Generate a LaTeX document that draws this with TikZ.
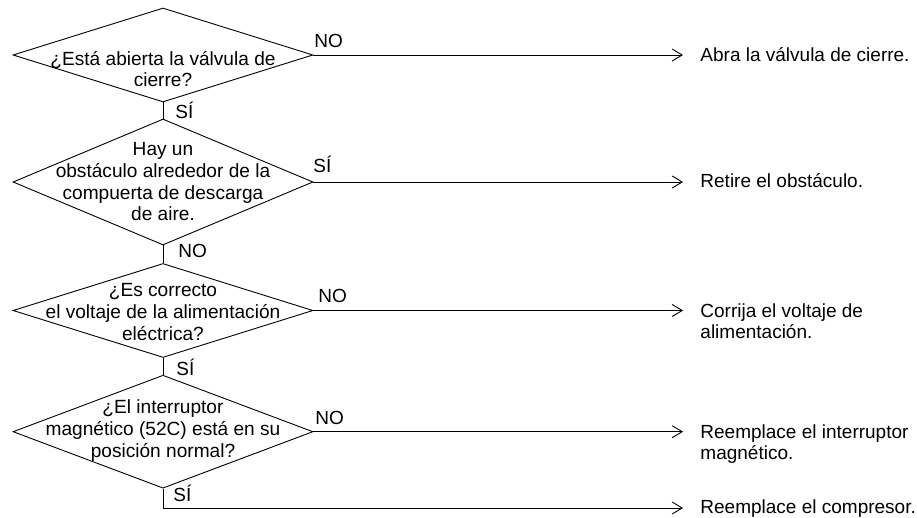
\documentclass[tikz,border=0pt]{standalone}
\usepackage{fontspec}
\setmainfont{Liberation Sans}
\usetikzlibrary{shapes.geometric,arrows.meta}

\begin{document}
\begin{tikzpicture}[x=1pt,y=-1pt,line width=0.9pt,
  decision/.style={draw,shape=diamond,aspect=1,inner sep=0pt,minimum width=300pt},
  qtext/.style={align=center,anchor=base,inner sep=0pt,font=\fontsize{19.1}{21.7}\selectfont},
  result/.style={align=left,anchor=base west,inner sep=0pt,font=\fontsize{19}{21.2}\selectfont},
  lbl/.style={anchor=base west,inner sep=0pt,font=\fontsize{19}{21.7}\selectfont},
  flow/.style={-{Straight Barb[length=10pt,width=12pt]},shorten >=17pt},
]
\useasboundingbox (0,0) rectangle (917,518);

% decision diamonds
\node[decision,minimum height=94pt]  (d1) at (163,55) {};
\node[decision,minimum height=126pt] (d2) at (163,182) {};
\node[decision,minimum height=94pt]  (d3) at (163,310.5) {};
\node[decision,minimum height=113pt] (d4) at (163,431.7) {};

% questions (positioned by the baseline of their last line)
\node[qtext] (q1) at (163,87)  {¿Está abierta la válvula de\\cierre?};
\node[qtext] (q2) at (163,221) {Hay un\\obstáculo alrededor de la\\compuerta de descarga\\de aire.};
\node[qtext] (q3) at (163,340) {¿Es correcto\\el voltaje de la alimentación\\eléctrica?};
\node[qtext] (q4) at (163,457) {¿El interruptor\\magnético (52C) está en su\\posición normal?};

% actions
\node[result] (r1) at (700,62)    {Abra la válvula de cierre.};
\node[result] (r2) at (700,188)   {Retire el obstáculo.};
\node[result] (r3) at (700,338.2) {Corrija el voltaje de\\alimentación.};
\node[result] (r4) at (700,459.2) {Reemplace el interruptor\\magnético.};
\node[result] (r5) at (700,513)   {Reemplace el compresor.};

% vertical links between decisions
\draw (d1.south) -- (d2.north);
\draw (d2.south) -- (d3.north);
\draw (d3.south) -- (d4.north);

% branches to the actions
\draw[flow] (d1.east) -- (d1.east -| r1.base west);
\draw[flow] (d2.east) -- (d2.east -| r2.base west);
\draw[flow] (d3.east) -- (d3.east -| r3.base west);
\draw[flow] (d4.east) -- (d4.east -| r4.base west);
\coordinate (c5) at (163,508);
\draw[flow] (d4.south) -- (c5) -- (c5 -| r5.base west);

% branch labels
\node[lbl] (l1) at (314,47.7)  {NO};
\node[lbl] (l2) at (313,173)   {SÍ};
\node[lbl] (l3) at (318,302)   {NO};
\node[lbl] (l4) at (315,424)   {NO};
\node[lbl] (l5) at (175,118.3) {SÍ};
\node[lbl] (l6) at (178,258)   {NO};
\node[lbl] (l7) at (176,375)   {SÍ};
\node[lbl] (l8) at (173,501.7) {SÍ};
\end{tikzpicture}
\end{document}
